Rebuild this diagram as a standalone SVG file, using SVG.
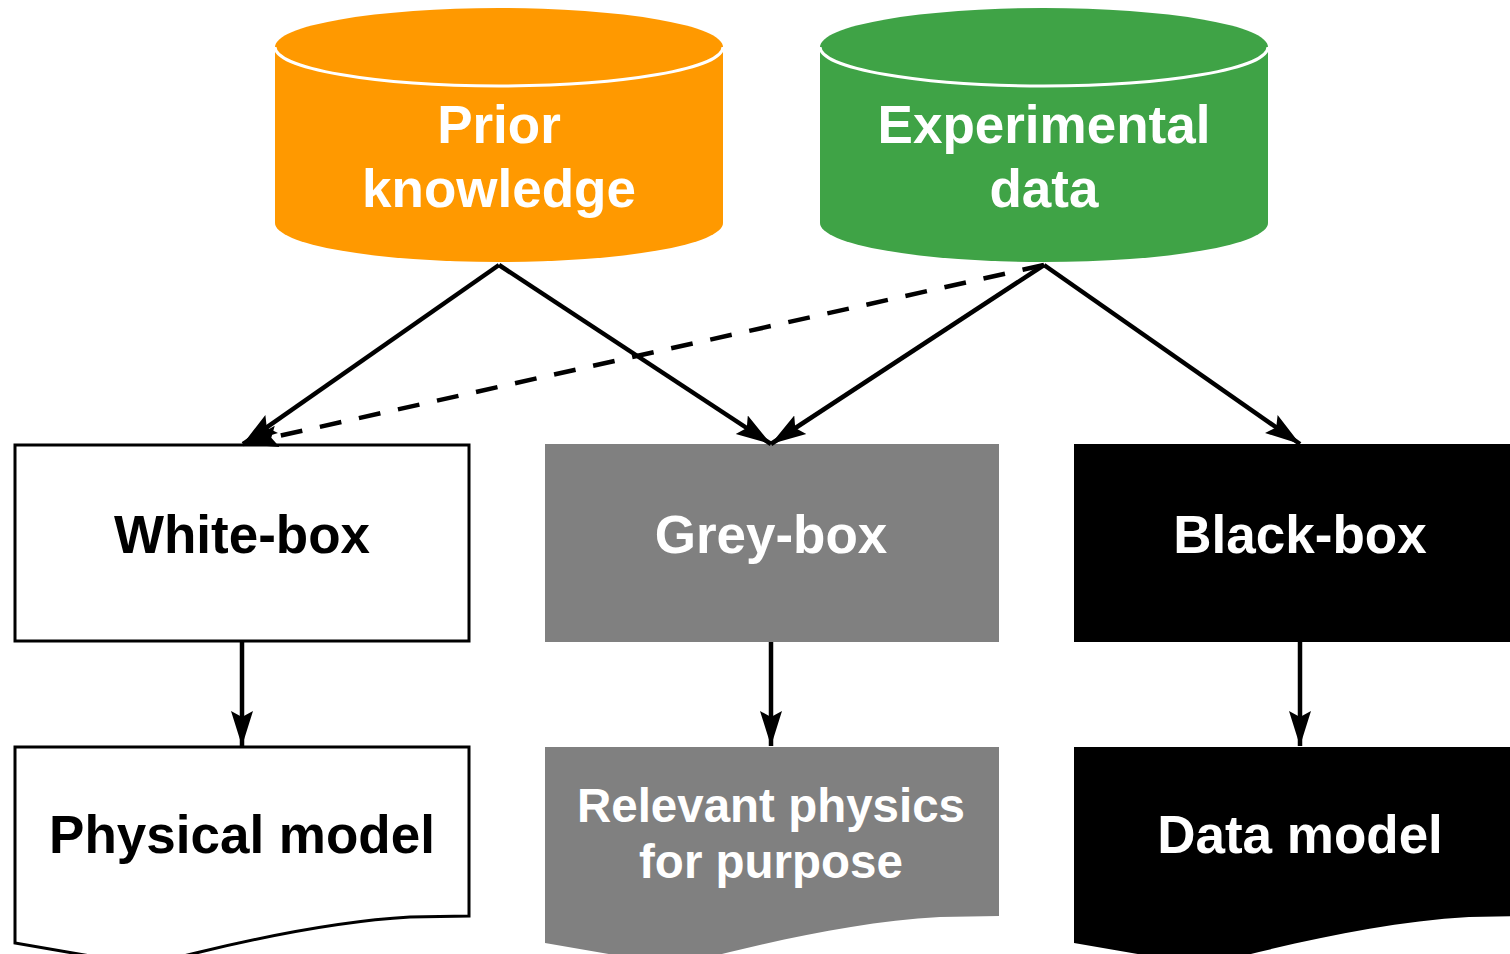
<svg xmlns="http://www.w3.org/2000/svg" xmlns:xlink="http://www.w3.org/1999/xlink" width="1510" height="954" viewBox="0 0 1510 954">
<style>
.t{font-family:"Liberation Sans",Arial,Helvetica,sans-serif;font-weight:bold;text-anchor:middle}
.big{font-size:53px}
.mid{font-size:47.5px}
.w{fill:#ffffff}
.k{fill:#000000}
.edge{fill:none;stroke:#000;stroke-width:4.5;marker-end:url(#arr)}
.dash{stroke-dasharray:22 18}
.rim{fill:none;stroke:#fff;stroke-width:3}
</style>
<defs>
<marker id="arr" markerUnits="userSpaceOnUse" markerWidth="38" markerHeight="24" refX="35" refY="11" orient="auto" viewBox="0 0 38 22">
<path d="M0,0 L35,11 L0,22 L6,11 Z" fill="#000"/>
</marker>
<path id="doc" d="M0,0 H454 V169 L395,170 C325,174 255,188 185,205 C150,214 125,216 110,215 L0,196 Z"/>
</defs>
<rect width="1510" height="954" fill="#fff"/>

<g id="prior">
<path d="M275,47 A224,39 0 0 1 723,47 V223 A224,39 0 0 1 275,223 Z" fill="#FF9900"/>
<path class="rim" d="M275,47 A224,39 0 0 0 723,47"/>
<text class="t big w" x="499" y="143">Prior</text>
<text class="t big w" x="499" y="207">knowledge</text>
</g>

<g id="experimental">
<path d="M820,47 A224,39 0 0 1 1268,47 V223 A224,39 0 0 1 820,223 Z" fill="#3FA346"/>
<path class="rim" d="M820,47 A224,39 0 0 0 1268,47"/>
<text class="t big w" x="1044" y="143">Experimental</text>
<text class="t big w" x="1044" y="207">data</text>
</g>

<g id="whitebox">
<rect x="15" y="445" width="454" height="196" fill="#fff" stroke="#000" stroke-width="3"/>
<text class="t big k" x="242" y="553">White-box</text>
</g>

<g id="greybox">
<rect x="545" y="444" width="454" height="198" fill="#808080"/>
<text class="t big w" x="771" y="553">Grey-box</text>
</g>

<g id="blackbox">
<rect x="1074" y="444" width="454" height="198" fill="#000"/>
<text class="t big w" x="1300" y="553">Black-box</text>
</g>

<g id="physical">
<use xlink:href="#doc" href="#doc" x="15" y="747" fill="#fff" stroke="#000" stroke-width="3"/>
<text class="t big k" x="242" y="853">Physical model</text>
</g>

<g id="relevant">
<use xlink:href="#doc" href="#doc" x="545" y="747" fill="#808080"/>
<text class="t mid w" x="771" y="822">Relevant physics</text>
<text class="t mid w" x="771" y="878">for purpose</text>
</g>

<g id="datamodel">
<use xlink:href="#doc" href="#doc" x="1074" y="747" fill="#000"/>
<text class="t big w" x="1300" y="853">Data model</text>
</g>

<g id="connectors">
<path class="edge" d="M499,265 L243,444"/>
<path class="edge" d="M499,265 L771,444"/>
<path class="edge" d="M1044,265 L771,444"/>
<path class="edge" d="M1044,265 L1300,444"/>
<path class="edge dash" d="M1044,265 L243,444"/>
<path class="edge" d="M242,642 L242,746"/>
<path class="edge" d="M771,642 L771,746"/>
<path class="edge" d="M1300,642 L1300,746"/>
</g>
</svg>
